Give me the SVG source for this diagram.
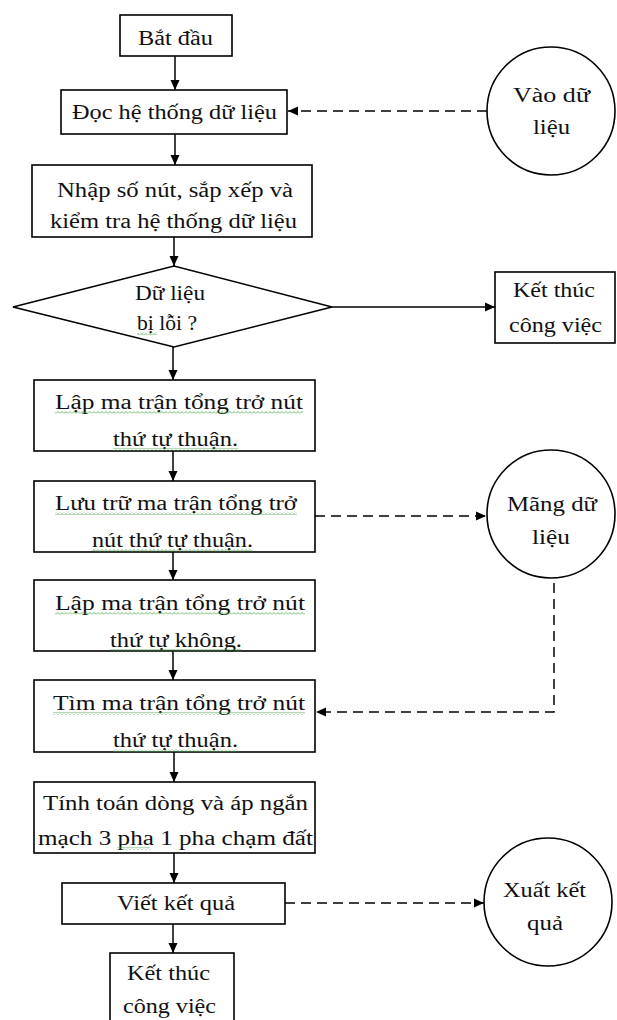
<svg xmlns="http://www.w3.org/2000/svg" width="617" height="1020" viewBox="0 0 617 1020">
<style>
.box{fill:#fff;stroke:#000;stroke-width:1.6}
.t{font-family:"Liberation Serif","Times New Roman",serif;font-size:20px;fill:#111}
.c{fill:none;stroke:#000;stroke-width:1.5}
.d{fill:none;stroke:#000;stroke-width:1.5;stroke-dasharray:10 6}
.w{fill:url(#wavy)}
</style>
<defs>
<marker id="ah" markerUnits="userSpaceOnUse" markerWidth="10" markerHeight="10" refX="10" refY="5" orient="auto">
<path d="M0,0.5 L10,5 L0,9.5 z" fill="#000"/>
</marker>
<pattern id="wavy" patternUnits="userSpaceOnUse" width="4" height="3">
<path d="M0,2.5 L2,0.5 L4,2.5" fill="none" stroke="#4a4" stroke-width="0.8"/>
</pattern>
</defs>
<rect width="617" height="1020" fill="#fff"/>

<g id="connectors">
<line class="c" x1="175" y1="56" x2="175" y2="90" marker-end="url(#ah)"/>
<line class="c" x1="175" y1="134" x2="175" y2="165" marker-end="url(#ah)"/>
<line class="c" x1="174" y1="237" x2="174" y2="266" marker-end="url(#ah)"/>
<line class="c" x1="173" y1="347" x2="173" y2="380" marker-end="url(#ah)"/>
<line class="c" x1="173" y1="451" x2="173" y2="481" marker-end="url(#ah)"/>
<line class="c" x1="173" y1="552" x2="173" y2="580" marker-end="url(#ah)"/>
<line class="c" x1="173" y1="651" x2="173" y2="680" marker-end="url(#ah)"/>
<line class="c" x1="174" y1="752" x2="174" y2="782" marker-end="url(#ah)"/>
<line class="c" x1="174" y1="853" x2="174" y2="883" marker-end="url(#ah)"/>
<line class="c" x1="173" y1="924" x2="173" y2="953" marker-end="url(#ah)"/>
<line class="c" x1="332" y1="307" x2="495" y2="307" marker-end="url(#ah)"/>
<line class="d" x1="487" y1="111" x2="288" y2="111" marker-end="url(#ah)"/>
<line class="d" x1="315" y1="516" x2="486" y2="516" marker-end="url(#ah)"/>
<path class="d" d="M554,583 L554,712 L316,712" marker-end="url(#ah)"/>
<line class="d" x1="285" y1="903" x2="484" y2="903" marker-end="url(#ah)"/>
</g>

<g id="start">
<rect class="box" x="120" y="15" width="112" height="41"/>
<text class="t" x="138" y="45" textLength="75" lengthAdjust="spacingAndGlyphs">Bắt đầu</text>
</g>

<g id="read">
<rect class="box" x="61" y="90" width="226" height="44"/>
<text class="t" x="72" y="119" textLength="205" lengthAdjust="spacingAndGlyphs">Đọc hệ thống dữ liệu</text>
</g>

<g id="input">
<rect class="box" x="32" y="165" width="280" height="72"/>
<text class="t" x="57" y="197" textLength="236" lengthAdjust="spacingAndGlyphs">Nhập số nút, sắp xếp và</text>
<text class="t" x="50" y="228" textLength="247" lengthAdjust="spacingAndGlyphs">kiểm tra hệ thống dữ liệu</text>
</g>

<g id="decision">
<polygon class="box" points="13,307 174,266 332,307 174,347"/>
<text class="t" x="135" y="300" textLength="70" lengthAdjust="spacingAndGlyphs">Dữ liệu</text>
<text class="t" x="137" y="330" textLength="60" lengthAdjust="spacingAndGlyphs">bị lỗi ?</text>
<rect class="w" x="137" y="332" width="20" height="3"/>
</g>

<g id="end-right">
<rect class="box" x="495" y="272" width="120" height="71"/>
<text class="t" x="513" y="297" textLength="82" lengthAdjust="spacingAndGlyphs">Kết thúc</text>
<text class="t" x="509" y="332" textLength="93" lengthAdjust="spacingAndGlyphs">công việc</text>
</g>

<g id="data-in">
<circle class="box" cx="551" cy="111" r="64"/>
<text class="t" x="513" y="102" textLength="77" lengthAdjust="spacingAndGlyphs">Vào dữ</text>
<text class="t" x="533" y="134" textLength="37" lengthAdjust="spacingAndGlyphs">liệu</text>
</g>

<g id="build-pos">
<rect class="box" x="34" y="380" width="281" height="71"/>
<text class="t" x="55" y="409" textLength="248" lengthAdjust="spacingAndGlyphs">Lập ma trận tổng trở nút</text>
<text class="t" x="113" y="446" textLength="125" lengthAdjust="spacingAndGlyphs">thứ tự thuận.</text>
<rect class="w" x="55" y="411" width="248" height="3"/>
<rect class="w" x="113" y="448" width="125" height="3"/>
</g>

<g id="store-pos">
<rect class="box" x="34" y="481" width="281" height="71"/>
<text class="t" x="55" y="510" textLength="242" lengthAdjust="spacingAndGlyphs">Lưu trữ ma trận tổng trở</text>
<text class="t" x="92" y="547" textLength="161" lengthAdjust="spacingAndGlyphs">nút thứ tự thuận.</text>
<rect class="w" x="55" y="512" width="242" height="3"/>
<rect class="w" x="92" y="549" width="161" height="3"/>
</g>

<g id="array">
<circle class="box" cx="551" cy="514" r="64"/>
<text class="t" x="507" y="511" textLength="90" lengthAdjust="spacingAndGlyphs">Mãng dữ</text>
<text class="t" x="532" y="544" textLength="38" lengthAdjust="spacingAndGlyphs">liệu</text>
</g>

<g id="build-zero">
<rect class="box" x="34" y="580" width="281" height="71"/>
<text class="t" x="55" y="610" textLength="250" lengthAdjust="spacingAndGlyphs">Lập ma trận tổng trở nút</text>
<text class="t" x="110" y="647" textLength="132" lengthAdjust="spacingAndGlyphs">thứ tự không.</text>
<rect class="w" x="55" y="612" width="250" height="3"/>
<rect class="w" x="110" y="649" width="132" height="3"/>
</g>

<g id="find-pos">
<rect class="box" x="34" y="680" width="281" height="72"/>
<text class="t" x="53" y="710" textLength="252" lengthAdjust="spacingAndGlyphs">Tìm ma trận tổng trở nút</text>
<text class="t" x="113" y="747" textLength="125" lengthAdjust="spacingAndGlyphs">thứ tự thuận.</text>
<rect class="w" x="53" y="712" width="252" height="3"/>
<rect class="w" x="113" y="749" width="125" height="3"/>
</g>

<g id="compute">
<rect class="box" x="34" y="782" width="281" height="71"/>
<text class="t" x="43" y="810" textLength="265" lengthAdjust="spacingAndGlyphs">Tính toán dòng và áp ngắn</text>
<text class="t" x="38" y="845" textLength="275" lengthAdjust="spacingAndGlyphs">mạch 3 pha 1 pha chạm đất</text>
<rect class="w" x="117" y="847" width="33" height="3"/>
</g>

<g id="write">
<rect class="box" x="62" y="883" width="223" height="41"/>
<text class="t" x="117" y="910" textLength="118" lengthAdjust="spacingAndGlyphs">Viết kết quả</text>
</g>

<g id="output">
<circle class="box" cx="548" cy="902" r="64"/>
<text class="t" x="503" y="897" textLength="83" lengthAdjust="spacingAndGlyphs">Xuất kết</text>
<text class="t" x="527" y="930" textLength="36" lengthAdjust="spacingAndGlyphs">quả</text>
</g>

<g id="end">
<rect class="box" x="110" y="953" width="124" height="80"/>
<text class="t" x="127" y="980" textLength="83" lengthAdjust="spacingAndGlyphs">Kết thúc</text>
<text class="t" x="123" y="1013" textLength="93" lengthAdjust="spacingAndGlyphs">công việc</text>
</g>
</svg>
